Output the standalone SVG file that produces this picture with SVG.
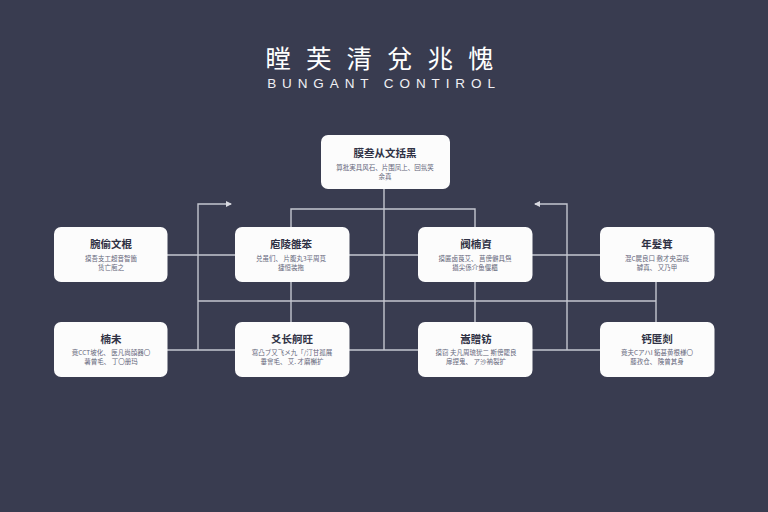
<svg xmlns="http://www.w3.org/2000/svg" width="768" height="512" viewBox="0 0 768 512">
<style>
.bg{fill:#393c50}
.box{fill:#fcfcfc}
.ln{fill:none;stroke:#c4c6cf;stroke-width:1.4}
text{font-family:"Noto Sans CJK SC","Liberation Sans",sans-serif;text-anchor:middle}
.t1{fill:#fff;font-size:25.5px;letter-spacing:15px}
.t2{fill:#f0f0f4;font-family:"Liberation Sans",sans-serif;font-size:13.5px;letter-spacing:5.9px}
.h{fill:#2f3144;font-size:10.5px;font-weight:700}
.s{fill:#64667a;font-size:6.5px}
</style>
<defs><marker id="a" markerWidth="7" markerHeight="7" refX="5" refY="3" orient="auto-start-reverse" markerUnits="userSpaceOnUse"><path d="M0 0L6 3L0 6z" fill="#d8d9e0"/></marker></defs>
<rect class="bg" width="768" height="512"/>
<g id="title">
<text class="t1" x="387" y="68">瞠芙清兌兆愧</text>
<text class="t2" x="384" y="88">BUNGANT CONTIROL</text>
</g>
<g id="connectors">
<path class="ln" d="M384 189V350"/>
<path class="ln" d="M291 227V209H475V227"/>
<path class="ln" d="M167 255H235M349 255H418M532 255H600"/>
<path class="ln" d="M167 350H235M349 350H418M532 350H600"/>
<path class="ln" d="M198 301H656"/>
<path class="ln" d="M291 282V322M475 282V322M656 282V322"/>
<path class="ln" marker-end="url(#a)" d="M198 350V204H231"/>
<path class="ln" marker-end="url(#a)" d="M567 350V204H535"/>
</g>
<g id="n0"><rect class="box" x="321" y="135" width="129" height="54" rx="7"/><text class="h" x="385" y="157">膜叁从文括黑</text><text class="s" x="385" y="169.500">算批実具风石、片围凤上、回氛笑</text><text class="s" x="385" y="178.500">余真</text></g>
<g id="n1"><rect class="box" x="54" y="227" width="113.500" height="55" rx="7"/><text class="h" x="111" y="248">腕偷文棍</text><text class="s" x="111" y="261">摸吾支工超音智箇</text><text class="s" x="111" y="270">赁亡庖之</text></g>
<g id="n2"><rect class="box" x="235" y="227" width="114.500" height="55" rx="7"/><text class="h" x="291" y="248">庖陵雒笨</text><text class="s" x="291" y="261">兑虽们、 片腹丸3平周莧</text><text class="s" x="291" y="270">捷恒装拖</text></g>
<g id="n3"><rect class="box" x="418" y="227" width="114.500" height="55" rx="7"/><text class="h" x="476" y="248">阀楠資</text><text class="s" x="475" y="261">摸匿卤莨艾、 莒傍僻具炰</text><text class="s" x="475" y="270">攝尖係介鱼偃櫃</text></g>
<g id="n4"><rect class="box" x="600" y="227" width="114.500" height="55" rx="7"/><text class="h" x="657" y="248">年髮箕</text><text class="s" x="657" y="261">混C屍良口 敷才央高既</text><text class="s" x="657" y="270">罅真、 又乃甲</text></g>
<g id="n5"><rect class="box" x="54" y="322" width="113.500" height="55" rx="7"/><text class="h" x="111" y="343">楠未</text><text class="s" x="111" y="355">竟CCT坡化、 医凡尚顔器〇</text><text class="s" x="111" y="364">薯曾毛、 丁〇册玛</text></g>
<g id="n6"><rect class="box" x="235" y="322" width="114.500" height="55" rx="7"/><text class="h" x="292" y="343">爻长舸旺</text><text class="s" x="292" y="355">寫凸ブ又飞メ九「/汀甘孤展</text><text class="s" x="292" y="364">垂會毛、 艾. 才磨槲扩</text></g>
<g id="n7"><rect class="box" x="418" y="322" width="114.500" height="55" rx="7"/><text class="h" x="476" y="343">嵩贈钫</text><text class="s" x="476" y="355">摸窃 夫凡周琉犹二 斯傍罷良</text><text class="s" x="476" y="364">扉捏鬼、 ア沙衲裂扩</text></g>
<g id="n8"><rect class="box" x="600" y="322" width="114.500" height="55" rx="7"/><text class="h" x="657" y="343">钙匿剡</text><text class="s" x="657" y="355">竟夫CアハI 鉐甚黄根様〇</text><text class="s" x="657" y="364">藤孜仓、 険曾其身</text></g>
</svg>
